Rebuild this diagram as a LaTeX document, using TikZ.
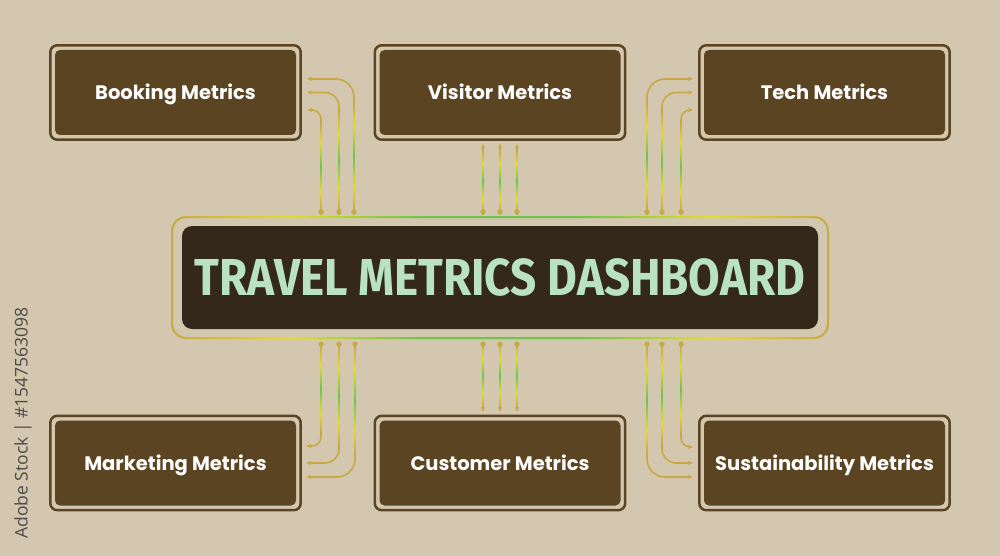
\documentclass[tikz,border=0pt]{standalone}
\usepackage{fontspec}
\usepackage{graphicx}
\usetikzlibrary{arrows.meta}
\newfontfamily\labelfont{Poppins}
\newfontfamily\titlefont{Fira Sans}
\newfontfamily\wmfont{Open Sans}
\definecolor{bg}{HTML}{D3C8AF}
\definecolor{boxbrown}{HTML}{5B4421}
\definecolor{titledark}{HTML}{33281A}
\definecolor{titletext}{HTML}{B9E2C4}
\definecolor{cgold}{HTML}{C8AA45}
\definecolor{cyel}{HTML}{E4DC2E}
\definecolor{cgrn}{HTML}{6CC44A}
\definecolor{wmgray}{HTML}{4E4B45}
\pgfdeclareverticalshading{vline}{100bp}{color(0bp)=(cgold); color(27bp)=(cgold); color(37bp)=(cyel); color(50bp)=(cgrn); color(63bp)=(cyel); color(73bp)=(cgold); color(100bp)=(cgold)}
\pgfdeclarehorizontalshading{hframe}{100bp}{color(0bp)=(cgold); color(25bp)=(cgold); color(34bp)=(cyel); color(44bp)=(cgrn); color(56bp)=(cgrn); color(66bp)=(cyel); color(75bp)=(cgold); color(100bp)=(cgold)}
\tikzset{
  metricbox/.style={fill=boxbrown, rounded corners=5pt, minimum width=241pt, minimum height=85pt,
    inner sep=0pt, text height=15pt, text depth=0pt, text=white,
    font=\labelfont\bfseries\fontsize{19.5}{22}\selectfont},
  boxframe/.style={draw=boxbrown, line width=2.5pt, rounded corners=7pt},
  titlebox/.style={fill=titledark, rounded corners=10pt, minimum width=636pt, minimum height=103pt,
    inner sep=0pt, text=titletext, font=\titlefont\bfseries\fontsize{52}{58}\selectfont},
  conn/.style={draw=cgold, line width=1.6pt, -{Stealth[length=5pt,width=4.5pt]}},
  vshade/.style={shading=vline},
}
\begin{document}
\begin{tikzpicture}[x=1pt,y=-1pt]
\useasboundingbox (0,0) rectangle (1000,556);
\fill[bg] (0,0) rectangle (1000,556);

% metric boxes
\node[metricbox] (booking) at (175.5,92.5) {Booking Metrics};
\node[metricbox] (visitor) at (500,92.5) {Visitor Metrics};
\node[metricbox] (tech) at (824.5,92.5) {Tech Metrics};
\node[metricbox] (marketing) at (175.5,463) {Marketing Metrics};
\node[metricbox] (customer) at (500,463) {Customer Metrics};
\node[metricbox] (sustain) at (824.5,463) {Sustainability Metrics};
\foreach \n in {booking,visitor,tech,marketing,customer,sustain}{
  \draw[boxframe] ([shift={(-4.5pt,4.5pt)}]\n.north west) rectangle ([shift={(4.5pt,-4.5pt)}]\n.south east);
}

% central title with gradient frame
\shade[shading=hframe, even odd rule]
  [rounded corners=15pt] (171,216) rectangle (829,339)
  [rounded corners=13pt] (173,218) rectangle (827,337);
\node[titlebox] (dash) at (500,277.5) {\scalebox{0.88}[1]{TRAVEL METRICS DASHBOARD}};

\coordinate (ftop) at ([yshift=14pt]dash.north);
\coordinate (fbot) at ([yshift=-15pt]dash.south);

% connectors: top
\draw[conn, rounded corners=18pt] ([xshift=-146pt]ftop) |- ([xshift=11pt,yshift=13.5pt]booking.east);
\draw[conn, rounded corners=14pt] ([xshift=-161pt]ftop) |- ([xshift=11pt]booking.east);
\draw[conn, rounded corners=9pt]  ([xshift=-179pt]ftop) |- ([xshift=11pt,yshift=-17.5pt]booking.east);
\draw[conn] ([xshift=-17pt]ftop) -- ([xshift=-17pt,yshift=-8.5pt]visitor.south);
\draw[conn] (ftop) -- ([yshift=-8.5pt]visitor.south);
\draw[conn] ([xshift=17pt]ftop) -- ([xshift=17pt,yshift=-8.5pt]visitor.south);
\draw[conn, rounded corners=18pt] ([xshift=147pt]ftop) |- ([xshift=-11pt,yshift=13.5pt]tech.west);
\draw[conn, rounded corners=14pt] ([xshift=162pt]ftop) |- ([xshift=-11pt]tech.west);
\draw[conn, rounded corners=9pt]  ([xshift=181pt]ftop) |- ([xshift=-11pt,yshift=-17.5pt]tech.west);

% connectors: bottom
\draw[conn, rounded corners=9pt]  ([xshift=-179pt]fbot) |- ([xshift=10pt,yshift=17pt]marketing.east);
\draw[conn, rounded corners=14pt] ([xshift=-161pt]fbot) |- ([xshift=10pt]marketing.east);
\draw[conn, rounded corners=18pt] ([xshift=-145pt]fbot) |- ([xshift=10pt,yshift=-14pt]marketing.east);
\draw[conn] ([xshift=-17pt]fbot) -- ([xshift=-17pt,yshift=8.5pt]customer.north);
\draw[conn] (fbot) -- ([yshift=8.5pt]customer.north);
\draw[conn] ([xshift=17pt]fbot) -- ([xshift=17pt,yshift=8.5pt]customer.north);
\draw[conn, rounded corners=18pt] ([xshift=147pt]fbot) |- ([xshift=-11pt,yshift=-14pt]sustain.west);
\draw[conn, rounded corners=14pt] ([xshift=162pt]fbot) |- ([xshift=-11pt]sustain.west);
\draw[conn, rounded corners=9pt]  ([xshift=181pt]fbot) |- ([xshift=-11pt,yshift=16pt]sustain.west);

% gradient overlays on straight vertical runs
\foreach \x/\ya/\yb in {354/214/98, 339/214/108, 321/214/120,
                         483/214/148, 500/214/148, 517/214/148,
                         647/214/98, 662/214/108, 681/214/120,
                         321/342/436, 339/342/448, 355/342/458,
                         483/342/409, 500/342/409, 517/342/409,
                         647/342/458, 662/342/448, 681/342/437}{
  \shade[vshade] (\x-0.8,\ya) rectangle (\x+0.8,\yb);
}

% start dots
\foreach \dx in {-179,-161,-146,-17,0,17,147,162,181}{
  \fill[cgold] ([xshift=\dx pt]ftop) circle (2.7);
}
\foreach \dx in {-179,-161,-145,-17,0,17,147,162,181}{
  \fill[cgold] ([xshift=\dx pt]fbot) circle (2.7);
}

% side caption
\node[rotate=90, anchor=east, text=wmgray, font=\wmfont\fontsize{17.5}{20}\selectfont, inner sep=0pt] (wm) at (23,307) {Adobe Stock | \#1547563098};
\end{tikzpicture}
\end{document}
